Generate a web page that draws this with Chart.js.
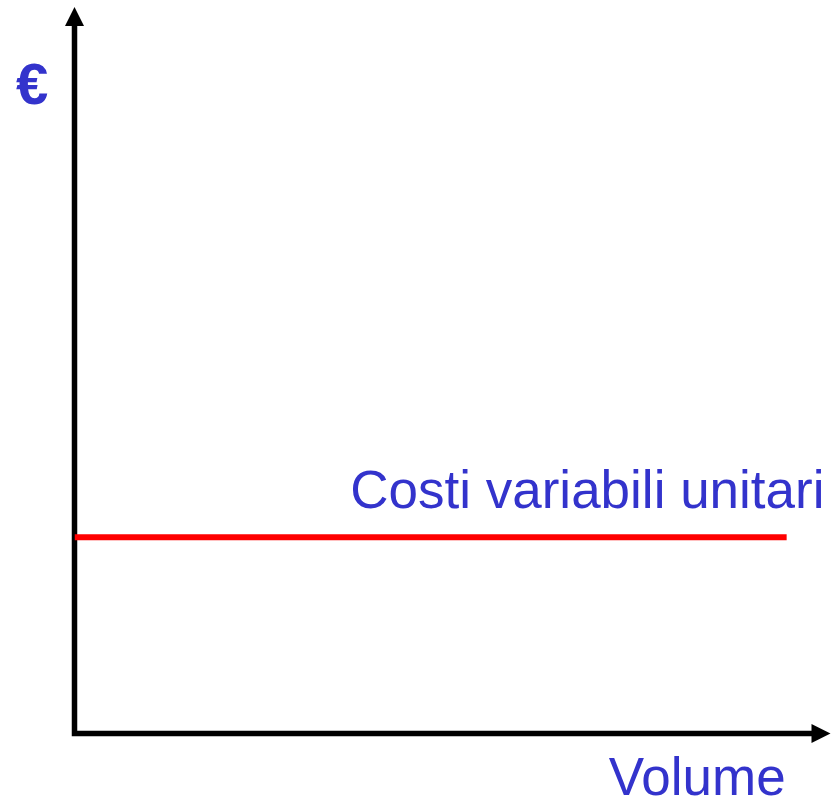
<!DOCTYPE html>
<html>
<head>
<meta charset="utf-8">
<script src="https://cdn.jsdelivr.net/npm/chart.js@4.4.0/dist/chart.umd.min.js"></script>
<style>
  html, body { margin: 0; padding: 0; background: #fff; }
  #wrap { width: 836px; height: 802px; }
</style>
</head>
<body>
<div id="wrap"><canvas id="chart" width="836" height="802"></canvas></div>
<script>
// dati del grafico
const volumi = [0, 94.2];
const costiUnitari = [27, 27];
const nomeSerie = 'Costi variabili unitari';
const titoloX = 'Volume';
const titoloY = '€';

const blu = '#3333cc';

// assi con frecce disegnati a mano
const assiPlugin = {
  id: 'assi',
  beforeDatasetsDraw(chart) {
    const ctx = chart.ctx;
    const x = chart.scales.x;
    const y = chart.scales.y;
    const x0 = x.getPixelForValue(0);
    const y0 = y.getPixelForValue(0);
    const xTop = y.getPixelForValue(y.max);
    const xEnd = x.getPixelForValue(x.max);
    const punta = 19;

    ctx.save();
    ctx.strokeStyle = '#000';
    ctx.fillStyle = '#000';
    ctx.lineWidth = 5.5;
    ctx.lineCap = 'butt';
    ctx.beginPath();
    ctx.moveTo(x0, y0 + 2.75);
    ctx.lineTo(x0, xTop + punta - 1);
    ctx.moveTo(x0 - 2.75, y0);
    ctx.lineTo(xEnd - punta + 1, y0);
    ctx.stroke();

    // punte delle frecce
    ctx.beginPath();
    ctx.moveTo(x0, xTop);
    ctx.lineTo(x0 - punta / 2, xTop + punta);
    ctx.lineTo(x0 + punta / 2, xTop + punta);
    ctx.closePath();
    ctx.fill();
    ctx.beginPath();
    ctx.moveTo(xEnd, y0);
    ctx.lineTo(xEnd - punta, y0 - punta / 2);
    ctx.lineTo(xEnd - punta, y0 + punta / 2);
    ctx.closePath();
    ctx.fill();
    ctx.restore();
  },
  afterDraw(chart) {
    const ctx = chart.ctx;
    const x = chart.scales.x;
    const y = chart.scales.y;
    const area = chart.chartArea;
    ctx.save();
    ctx.fillStyle = blu;
    ctx.textBaseline = 'alphabetic';

    ctx.font = '53px "Liberation Sans", Arial, sans-serif';
    ctx.textAlign = 'right';
    const yLinea = y.getPixelForValue(costiUnitari[costiUnitari.length - 1]);
    ctx.fillText(nomeSerie, area.right - 6, yLinea - 29);

    ctx.fillText(titoloX, x.getPixelForValue(volumi[volumi.length - 1]) - 1, 795);

    ctx.font = 'bold 58px "Liberation Sans", Arial, sans-serif';
    ctx.textAlign = 'left';
    ctx.fillText(titoloY, 16, 104);
    ctx.restore();
  }
};

new Chart(document.getElementById('chart'), {
  type: 'line',
  data: {
    datasets: [{
      label: nomeSerie,
      data: volumi.map((v, i) => ({ x: v, y: costiUnitari[i] })),
      borderColor: '#ff0000',
      borderWidth: 6,
      borderCapStyle: 'butt',
      pointRadius: 0,
      fill: false,
      tension: 0
    }]
  },
  options: {
    responsive: false,
    animation: false,
    events: [],
    layout: { padding: { left: 74.5, top: 7, right: 5.5, bottom: 68.5 } },
    plugins: { legend: { display: false }, tooltip: { enabled: false } },
    scales: {
      x: { type: 'linear', min: 0, max: 100, display: false },
      y: { type: 'linear', min: 0, max: 100, display: false }
    }
  },
  plugins: [assiPlugin]
});
</script>
</body>
</html>
